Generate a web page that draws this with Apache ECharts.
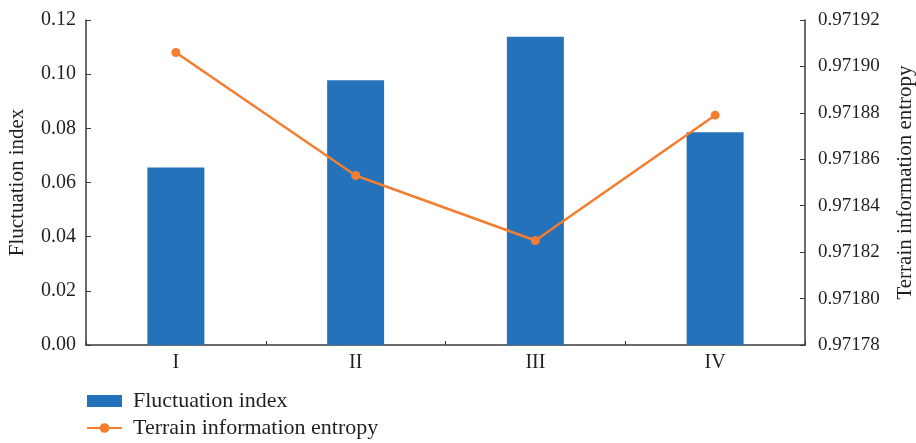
<!DOCTYPE html>
<html>
<head>
<meta charset="utf-8">
<script src="https://cdn.jsdelivr.net/npm/echarts@6/dist/echarts.min.js"></script>
<style>
  html, body { margin: 0; padding: 0; background: #fff; }
  #chart { width: 916px; height: 443px; }
</style>
</head>
<body>
<div id="chart"></div>
<script>
// Zones along the horizontal axis
const categories = ['I', 'II', 'III', 'IV'];
// Fluctuation index per zone (left axis)
const fluctuationIndex = [0.0655, 0.0978, 0.1138, 0.0786];
// Terrain information entropy per zone (right axis)
const terrainEntropy = [0.971906, 0.971853, 0.971825, 0.971879];

const FONT = 'Liberation Serif';
const AXIS_COLOR = '#3a3a3a';
const TEXT_COLOR = '#231f20';

const chart = echarts.init(document.getElementById('chart'), null, { renderer: 'canvas' });

chart.setOption({
  animation: false,
  textStyle: { fontFamily: FONT },
  grid: {
    left: 86, right: 111, top: 20, bottom: 98,
    containLabel: false,
    outerBoundsMode: 'none'
  },
  legend: {
    orient: 'vertical',
    left: 86,
    top: 390,
    height: 53,
    padding: 0,
    itemWidth: 35,
    itemHeight: 12,
    itemGap: 5,
    textStyle: { fontFamily: FONT, fontSize: 22, color: TEXT_COLOR, padding: [0, 0, 0, 6] },
    data: [
      { name: 'Fluctuation index', icon: 'rect' },
      { name: 'Terrain information entropy' }
    ]
  },
  xAxis: {
    type: 'category',
    data: categories,
    boundaryGap: true,
    axisLine: { lineStyle: { color: AXIS_COLOR, width: 1.5 } },
    axisTick: { show: true, inside: true, length: 4, alignWithLabel: false, lineStyle: { color: AXIS_COLOR } },
    axisLabel: { fontFamily: FONT, fontSize: 20, color: TEXT_COLOR, margin: 8 },
    splitLine: { show: false }
  },
  yAxis: [
    {
      type: 'value',
      min: 0,
      max: 0.12,
      interval: 0.02,
      position: 'left',
      name: 'Fluctuation index',
      nameLocation: 'middle',
      nameRotate: 90,
      nameGap: 58,
      nameTextStyle: { fontFamily: FONT, fontSize: 21, color: TEXT_COLOR },
      axisLine: { show: true, lineStyle: { color: AXIS_COLOR, width: 1.5 } },
      axisTick: { show: true, inside: true, length: 5, lineStyle: { color: AXIS_COLOR } },
      axisLabel: {
        fontFamily: FONT, fontSize: 20, color: TEXT_COLOR, margin: 10,
        formatter: v => v.toFixed(2)
      },
      splitLine: { show: false }
    },
    {
      type: 'value',
      min: 0.97178,
      max: 0.97192,
      interval: 0.00002,
      position: 'right',
      name: 'Terrain information entropy',
      nameLocation: 'middle',
      nameRotate: 90,
      nameGap: 90,
      nameTextStyle: { fontFamily: FONT, fontSize: 21, color: TEXT_COLOR },
      axisLine: { show: true, lineStyle: { color: AXIS_COLOR, width: 1.5 } },
      axisTick: { show: true, inside: true, length: 5, lineStyle: { color: AXIS_COLOR } },
      axisLabel: {
        fontFamily: FONT, fontSize: 19, color: TEXT_COLOR, margin: 13,
        formatter: v => v.toFixed(5)
      },
      splitLine: { show: false }
    }
  ],
  series: [
    {
      name: 'Fluctuation index',
      type: 'bar',
      yAxisIndex: 0,
      data: fluctuationIndex,
      barWidth: '31.7%',
      itemStyle: { color: '#2473ba' }
    },
    {
      name: 'Terrain information entropy',
      type: 'line',
      yAxisIndex: 1,
      data: terrainEntropy,
      symbol: 'circle',
      symbolSize: 9,
      lineStyle: { color: '#f47d30', width: 2.5 },
      itemStyle: { color: '#f47d30' }
    }
  ]
});
</script>
</body>
</html>
